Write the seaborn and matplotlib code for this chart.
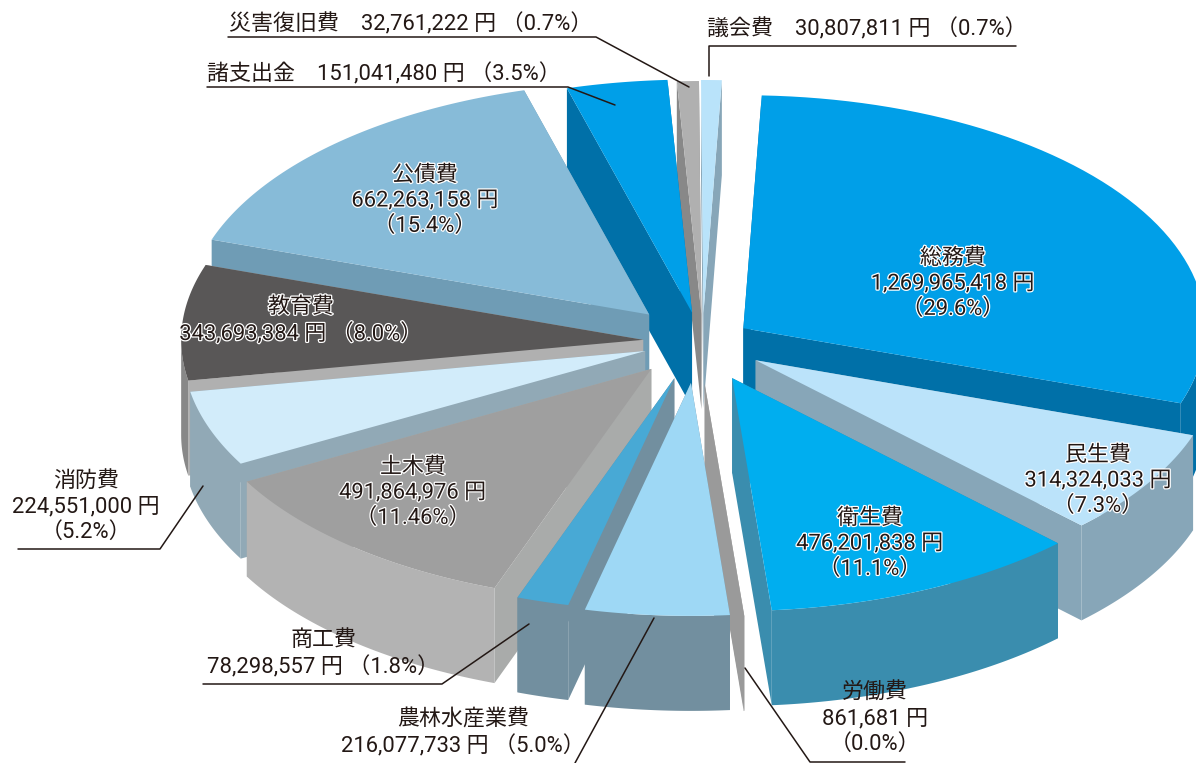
import numpy as np
import matplotlib
matplotlib.use('Agg')
import matplotlib.pyplot as plt
import matplotlib.patheffects as pe
import seaborn as sns

# budget items, clockwise from the top of the pie
names = ['議会費', '総務費', '民生費', '衛生費', '労働費', '農林水産業費', '商工費',
         '土木費', '消防費', '教育費', '公債費', '諸支出金', '災害復旧費']
yen = [30807811, 1269965418, 314324033, 476201838, 861681, 216077733, 78298557,
       491864976, 224551000, 343693384, 662263158, 151041480, 32761222]
pct = ['0.7', '29.6', '7.3', '11.1', '0.0', '5.0', '1.8',
       '11.46', '5.2', '8.0', '15.4', '3.5', '0.7']

top_col = ['#b9e3fa', '#009fe8', '#bbe3fa', '#00aeef', '#9a9a9a', '#9ed8f5', '#48a9d5',
           '#9f9f9f', '#d2ecfa', '#595757', '#87bbd8', '#009fe8', '#b0b0b0']
side_col = ['#87a6b8', '#0070a8', '#87a6b8', '#3a8dae', '#9a9a9a', '#728f9f', '#728f9f',
            '#b3b3b3', '#91a9b6', '#888888', '#6f9cb5', '#0070a8', '#888888']
wall_col = ['#87a6b8', '#0070a8', '#87a6b8', '#3a8dae', '#9a9a9a', '#728f9f', '#728f9f',
            '#a9abaa', '#91a9b6', '#b0b0b0', '#6f9cb5', '#0070a8', '#888888']
# hand placement of each exploded slice on top of the radial offset
nudge_x = [2.5, -2, 9, 9, 0, -5, -10, -13, -3, -2, -13, 1, 3]
nudge_y = [10, 7, -7, -5, -3, -4, -7, -8, -8, -2, 0, 9, 11]
# back slices first so the front ones cover them
draw_order = [12, 0, 11, 10, 1, 9, 8, 7, 2, 6, 4, 5, 3]

sns.set_theme(style='white')
plt.rcParams['font.family'] = ['Roboto', 'Noto Sans CJK JP']

cx, cy = 700, 345
rx, ry = 462, 233
ex, ey = 55, 42
depth = 95
start = -0.3

fig = plt.figure(figsize=(11.96, 7.63), dpi=100)
ax = fig.add_axes([0, 0, 1, 1])
ax.set_xlim(0, 1196)
ax.set_ylim(763, 0)
ax.axis('off')

share = np.array(yen) / np.sum(yen) * 360
edges = start + np.concatenate([[0], np.cumsum(share)])

def point(t, ox, oy):
    a = np.radians(t)
    return ox + rx * np.sin(a), oy - ry * np.cos(a)

for i in draw_order:
    t0, t1 = edges[i], edges[i + 1]
    mid = np.radians((t0 + t1) / 2)
    ox = cx + ex * np.sin(mid) + nudge_x[i]
    oy = cy - ey * np.cos(mid) + nudge_y[i]
    ts = np.linspace(t0, t1, 60)
    ax_, ay_ = point(ts, ox, oy)
    # inner walls
    for t in (t0, t1):
        px, py = point(t, ox, oy)
        ax.fill([ox, px, px, ox], [oy, py, py + depth, oy + depth], color=wall_col[i], lw=0)
    # rim, only the part that faces the viewer
    lo, hi = max(t0, 90), min(t1, 270)
    if hi > lo:
        rs = np.linspace(lo, hi, 60)
        rxs, rys = point(rs, ox, oy)
        ax.fill(np.r_[rxs, rxs[::-1]], np.r_[rys, rys[::-1] + depth], color=side_col[i], lw=0)
    ax.fill(np.r_[ox, ax_], np.r_[oy, ay_], color=top_col[i], lw=0)

halo = [pe.withStroke(linewidth=1.8, foreground='white')]
def label(x, y, s, on_slice=False):
    t = ax.text(x, y, s, ha='center', va='center', fontsize=15.8, color='#231815',
                linespacing=1.27)
    if on_slice:
        t.set_path_effects(halo)

def money(i):
    return f'{yen[i]:,} 円'

label(953, 284, f'{names[1]}\n{money(1)}\n（{pct[1]}%）', True)
label(1098, 481, f'{names[2]}\n{money(2)}\n（{pct[2]}%）', True)
label(870, 544, f'{names[3]}\n{money(3)}\n（{pct[3]}%）', True)
label(875, 719, f'{names[4]}\n{money(4)}\n（{pct[4]}%）')
label(463, 733, f'{names[5]}\n{money(5)} （{pct[5]}%）')
label(323, 654, f'{names[6]}\n{money(6)} （{pct[6]}%）')
label(413, 493, f'{names[7]}\n{money(7)}\n（{pct[7]}%）', True)
label(86, 507, f'{names[8]}\n{money(8)}\n（{pct[8]}%）')
label(301, 321, f'{names[9]}\n{money(9)} （{pct[9]}%）', True)
label(425, 201, f'{names[10]}\n{money(10)}\n（{pct[10]}%）', True)
label(384, 74, f'{names[11]}    {money(11)} （{pct[11]}%）')
label(411, 24, f'{names[12]}    {money(12)} （{pct[12]}%）')
label(867, 29, f'{names[0]}    {money(0)} （{pct[0]}%）')

leaders = [
    ([228, 596, 689], [37, 37, 87]),
    ([1016, 709, 709], [46, 46, 76]),
    ([207, 568, 615], [87, 87, 105]),
    ([203, 442, 529], [684, 684, 624]),
    ([654, 575], [618, 763]),
    ([18, 160, 203], [549, 549, 486]),
    ([745, 810, 905], [668, 762, 762]),
]
for xs, ys in leaders:
    ax.plot(xs, ys, color='#231815', lw=1.1)

fig.savefig('out.png', dpi=100)
